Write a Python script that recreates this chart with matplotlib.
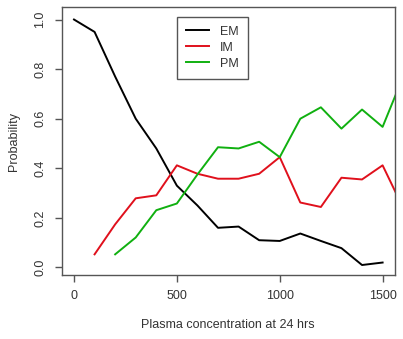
import numpy as np
import matplotlib
matplotlib.use('Agg')
import matplotlib.pyplot as plt

# plasma concentration grid (last point lies past the plotted range)
conc = [0, 100, 200, 300, 400, 500, 600, 700, 800, 900, 1000,
        1100, 1200, 1300, 1400, 1500, 1600]
em = [1.0, 0.95, 0.77, 0.60, 0.48, 0.33, 0.25, 0.16, 0.165, 0.11, 0.107,
      0.137, 0.107, 0.078, 0.01, 0.02, np.nan]
im = [np.nan, 0.053, 0.174, 0.279, 0.291, 0.412, 0.378, 0.358, 0.358, 0.378, 0.445,
      0.262, 0.244, 0.362, 0.355, 0.412, 0.24]
pm = [np.nan, np.nan, 0.053, 0.121, 0.231, 0.258, 0.375, 0.485, 0.48, 0.507, 0.445,
      0.60, 0.646, 0.56, 0.637, 0.567, 0.77]

x_ticks = [0, 500, 1000, 1500]
y_ticks = [0.0, 0.2, 0.4, 0.6, 0.8, 1.0]

plt.rcParams['font.family'] = ['Liberation Sans', 'DejaVu Sans']

fig = plt.figure(figsize=(4.03, 3.39), dpi=100)
ax = fig.add_axes([0.153, 0.189, 0.827, 0.790])

ax.plot(conc, em, color='black', lw=1.4, label='EM')
ax.plot(conc, im, color='#e0101c', lw=1.4, label='IM')
ax.plot(conc, pm, color='#10b010', lw=1.4, label='PM')

ax.set_xlim(-60, 1560)
ax.set_ylim(-0.03, 1.05)
ax.set_xticks(x_ticks)
ax.set_xticklabels([str(t) for t in x_ticks])
ax.set_yticks(y_ticks)
ax.set_yticklabels([f'{t:.1f}' for t in y_ticks], rotation=90, va='center')

for s in ax.spines.values():
    s.set_color('#555555')
    s.set_linewidth(1.0)
ax.tick_params(colors='#555555', labelcolor='#333333', labelsize=9, length=5, width=1, pad=6)

ax.set_xlabel('Plasma concentration at 24 hrs', fontsize=9, color='#333333', labelpad=12)
ax.set_ylabel('Probability', fontsize=9, color='#333333', labelpad=10)

leg = ax.legend(loc='upper left', bbox_to_anchor=(0.346, 0.963), fontsize=9,
                handlelength=1.85, handletextpad=0.9, labelspacing=0.32,
                borderpad=0.7, borderaxespad=0, fancybox=False, framealpha=1)
leg.get_frame().set_edgecolor('#555555')
leg.get_frame().set_linewidth(1.0)
for t in leg.get_texts():
    t.set_color('#333333')

fig.savefig('out.png', dpi=100)
